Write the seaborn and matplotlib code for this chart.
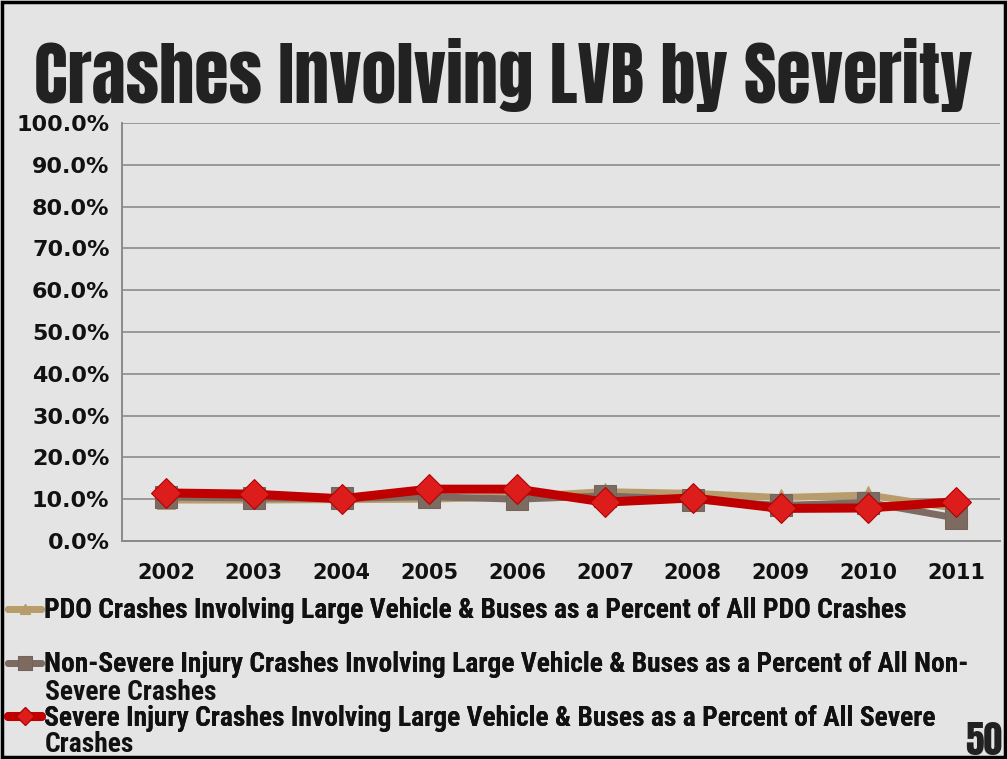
import matplotlib
matplotlib.use("Agg")
import matplotlib.pyplot as plt
from matplotlib.patches import Rectangle
import seaborn as sns
import pandas as pd

years = ["2002", "2003", "2004", "2005", "2006", "2007", "2008", "2009", "2010", "2011"]
pdo_pct = [9.8, 9.8, 9.9, 10.0, 10.6, 11.8, 11.4, 10.4, 11.0, 7.8]
nonsevere_pct = [10.5, 10.3, 10.2, 10.6, 10.0, 10.8, 9.9, 8.5, 9.2, 5.5]
severe_pct = [11.5, 11.2, 10.1, 12.4, 12.4, 9.3, 10.3, 7.8, 7.9, 9.4]
series_labels = [
    "PDO Crashes Involving Large Vehicle & Buses as a Percent of All PDO Crashes",
    "Non-Severe Injury Crashes Involving Large Vehicle & Buses as a Percent of All Non-\nSevere Crashes",
    "Severe Injury Crashes Involving Large Vehicle & Buses as a Percent of All Severe\nCrashes",
]
y_ticks = [0, 10, 20, 30, 40, 50, 60, 70, 80, 90, 100]

sns.set_theme(style="white")
bg = "#e4e4e4"
plt.rcParams["font.family"] = ["DejaVu Sans"]

title_font = ["Anton", "Oswald", "Bebas Neue", "DejaVu Sans"]
cond_font = ["Roboto Condensed", "Oswald", "Archivo Narrow", "PT Sans Narrow", "DejaVu Sans"]

fig = plt.figure(figsize=(10.07, 7.59), dpi=100, facecolor=bg)
ax = fig.add_axes([122 / 1007, 1 - 541 / 759, (1000 - 122) / 1007, (541 - 123) / 759])
ax.set_facecolor("none")

pos = list(range(len(years)))
df = pd.DataFrame({
    "pos": pos * 3,
    "value": pdo_pct + nonsevere_pct + severe_pct,
    "series": [series_labels[0]] * 10 + [series_labels[1]] * 10 + [series_labels[2]] * 10,
})

styles = [
    dict(color="#b89c6c", edge="#b89c6c", face="#b89c6c", marker="^", ms=13, lw=5, z=2),
    dict(color="#7d6b62", edge="#75645b", face="#7d6b62", marker="s", ms=16, lw=5, z=3),
    dict(color="#c00000", edge="#b00000", face="#dd1c1c", marker="D", ms=15, lw=6.5, z=4),
]

handles = []
for lab, st in zip(series_labels, styles):
    sub = df[df["series"] == lab]
    sns.lineplot(data=sub, x="pos", y="value", ax=ax, color=st["color"], lw=st["lw"],
                 marker=st["marker"], markersize=st["ms"], markeredgecolor=st["edge"],
                 markerfacecolor=st["face"], zorder=st["z"], legend=False)
    handles.append(ax.lines[-1])

ax.set_xlim(-0.5, len(years) - 0.5)
ax.set_ylim(0, 100)
ax.set_yticks(y_ticks)
ax.set_yticklabels([f"{v:.1f}%" for v in y_ticks], fontsize=16, fontweight="bold", color="#111111")
ax.set_xticks(pos)
ax.set_xticklabels(years, fontsize=15, fontweight="bold", color="#111111")
ax.set_xticks([p + 0.5 for p in pos[:-1]] + [-0.5, len(years) - 0.5], minor=True)
ax.tick_params(axis="x", which="major", length=0, pad=16)
ax.tick_params(axis="x", which="minor", length=6, width=1.2, color="#8a8a8a", direction="out")
ax.tick_params(axis="y", which="major", length=6, width=1.2, color="#8a8a8a", pad=3, direction="out")
ax.set_xlabel("")
ax.set_ylabel("")
ax.grid(axis="y", color="#8c8c8c", lw=1.2)
ax.grid(axis="x", visible=False)
for s in ["top", "right"]:
    ax.spines[s].set_visible(False)
for s in ["left", "bottom"]:
    ax.spines[s].set_color("#8a8a8a")
    ax.spines[s].set_linewidth(1.4)

title = fig.text(0.5, 1 - 75 / 759, "Crashes Involving LVB by Severity", ha="center", va="center",
                 fontsize=56, family=title_font, color="#222222")
# fit the title to its banner width
fig.canvas.draw()
w = title.get_window_extent().width
title.set_fontsize(56 * 940 / w)

# one legend entry per series; wrapped labels continue on a second text line
leg_size = 19.8
leg_prop = {"family": cond_font, "weight": "bold", "size": leg_size}
first_line_y = [611, 665, 718]
line_gap = 27
for handle, label, yc in zip(handles, series_labels, first_line_y):
    lines = label.split("\n")
    leg = fig.legend(handles=[handle], labels=[lines[0]], loc="center left",
                     bbox_to_anchor=(0.008, 1 - yc / 759), frameon=False, prop=leg_prop,
                     handlelength=1.2, handletextpad=0.12, borderaxespad=0, borderpad=0,
                     markerscale=0.6)
    leg.get_texts()[0].set_color("#111111")
    fig.add_artist(leg)
    for k, extra in enumerate(lines[1:], start=1):
        fig.text(45 / 1007, 1 - (yc + k * line_gap) / 759, extra, ha="left", va="center",
                 family=cond_font, fontweight="bold", fontsize=leg_size, color="#111111")

fig.text(0.995, 1 - 741 / 759, "50", ha="right", va="center", fontsize=27,
         family=title_font, color="#222222")

fig.patches.append(Rectangle((0.002, 0.002), 0.996, 0.995, transform=fig.transFigure,
                             fill=False, edgecolor="black", lw=2.5))

fig.savefig("out.png", dpi=100, facecolor=bg)
